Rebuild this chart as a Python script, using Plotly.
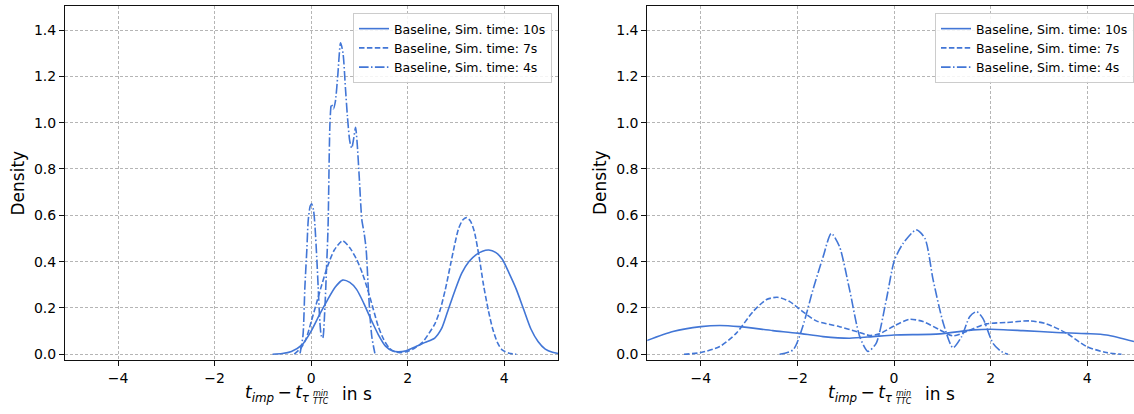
import plotly.graph_objects as go

# ---------------- data ----------------
# Left panel: kernel density curves (x in s, density)
left_10s_x = [-0.80, -0.60, -0.41, -0.19, 0.00, 0.17, 0.34, 0.50, 0.65, 0.80, 0.94, 1.09, 1.24,
              1.39, 1.54, 1.68, 1.80, 1.97, 2.14, 2.35, 2.56, 2.70, 2.82, 2.97, 3.12, 3.27, 3.42,
              3.55, 3.68, 3.82, 3.96, 4.10, 4.25, 4.40, 4.55, 4.70, 4.85, 5.00, 5.12]
left_10s_y = [0.000, 0.003, 0.012, 0.040, 0.100, 0.170, 0.235, 0.290, 0.320, 0.310, 0.280, 0.220, 0.150,
              0.085, 0.035, 0.015, 0.010, 0.015, 0.030, 0.050, 0.070, 0.110, 0.180, 0.270, 0.350, 0.400, 0.430,
              0.445, 0.450, 0.440, 0.410, 0.350, 0.280, 0.195, 0.110, 0.055, 0.022, 0.008, 0.003]

left_7s_x = [-0.35, -0.20, -0.10, 0.00, 0.11, 0.22, 0.34, 0.48, 0.65, 0.80, 0.94, 1.06, 1.17, 1.28,
             1.39, 1.50, 1.62, 1.74, 1.84, 2.00, 2.14, 2.30, 2.44, 2.56, 2.67, 2.78, 2.89, 2.97,
             3.05, 3.14, 3.22, 3.30, 3.38, 3.48, 3.57, 3.67, 3.76, 3.86, 3.95, 4.10, 4.25]
left_7s_y = [0.000, 0.030, 0.070, 0.140, 0.220, 0.300, 0.380, 0.450, 0.490, 0.460, 0.410, 0.350, 0.280, 0.200,
             0.120, 0.065, 0.026, 0.010, 0.007, 0.012, 0.026, 0.050, 0.090, 0.130, 0.190, 0.280, 0.390, 0.470,
             0.540, 0.580, 0.590, 0.575, 0.530, 0.420, 0.300, 0.190, 0.110, 0.050, 0.020, 0.004, 0.000]

left_4s_x = [-0.23, -0.17, -0.13, -0.09, -0.06, -0.02, 0.01, 0.05, 0.08, 0.12, 0.145, 0.18, 0.21, 0.24,
             0.28, 0.32, 0.35, 0.39, 0.42, 0.46, 0.50, 0.55, 0.61, 0.66, 0.71, 0.75, 0.80, 0.84, 0.88,
             0.92, 0.95, 1.00, 1.05, 1.10, 1.14, 1.18, 1.22, 1.26, 1.32]
left_4s_y = [0.004, 0.080, 0.290, 0.450, 0.580, 0.640, 0.650, 0.620, 0.550, 0.400, 0.290, 0.140, 0.080, 0.070,
             0.180, 0.380, 0.550, 1.000, 1.080, 1.060, 1.090, 1.200, 1.345, 1.300, 1.150, 1.030, 0.920, 0.890, 0.930,
             0.980, 0.920, 0.750, 0.580, 0.520, 0.450, 0.300, 0.160, 0.070, 0.004]

# Right panel
right_10s_x = [-5.12, -4.58, -4.00, -3.61, -3.20, -2.51, -2.00, -1.47, -0.92, -0.44, 0.00, 0.95,
               1.64, 2.00, 2.67, 3.36, 4.00, 4.40, 4.97]
right_10s_y = [0.059, 0.098, 0.119, 0.124, 0.119, 0.102, 0.091, 0.076, 0.069, 0.076, 0.083, 0.088,
               0.105, 0.108, 0.102, 0.094, 0.089, 0.083, 0.055]

right_7s_x = [-4.35, -4.00, -3.61, -3.27, -2.92, -2.65, -2.42, -2.16, -1.89, -1.61, -1.13, -0.78,
              -0.50, -0.30, 0.00, 0.32, 0.60, 0.95, 1.22, 1.50, 1.91, 2.33, 2.81, 3.16, 3.57,
              3.99, 4.40, 4.71]
right_7s_y = [0.000, 0.007, 0.033, 0.090, 0.184, 0.235, 0.246, 0.227, 0.184, 0.144, 0.119, 0.098,
              0.081, 0.088, 0.122, 0.151, 0.141, 0.105, 0.079, 0.098, 0.131, 0.137, 0.144, 0.131, 0.091,
              0.033, 0.007, 0.000]

right_4s_x = [-2.37, -2.09, -1.89, -1.68, -1.47, -1.30, -1.13, -0.92, -0.71, -0.54, -0.37, -0.16,
              0.01, 0.19, 0.46, 0.64, 0.81, 1.02, 1.22, 1.40, 1.57, 1.71, 1.84, 2.05, 2.22, 2.36]
right_4s_y = [0.000, 0.019, 0.120, 0.278, 0.420, 0.522, 0.465, 0.278, 0.076, 0.012, 0.047, 0.235,
              0.407, 0.479, 0.537, 0.500, 0.321, 0.134, 0.028, 0.076, 0.163, 0.184, 0.155, 0.047, 0.012, 0.000]

series_names = ["Baseline, Sim. time: 10s", "Baseline, Sim. time: 7s", "Baseline, Sim. time: 4s"]
x_ticks = [-4, -2, 0, 2, 4]
y_ticks = [0.0, 0.2, 0.4, 0.6, 0.8, 1.0, 1.2, 1.4]

# ---------------- styling ----------------
W, H = 1134, 414
M_L, M_R, M_T, M_B = 65, 0, 6, 54
PLOT_W = W - M_L - M_R
PLOT_H = H - M_T - M_B
FONT = "DejaVu Sans"
LINE_COLOR = "#4276d6"
DASHES = ["solid", "5.5px,2.4px", "9.6px,2.4px,1.5px,2.4px"]


def px_x(px):
    return (px - M_L) / PLOT_W


def px_y(py):
    return (H - M_B - py) / PLOT_H


fig = go.Figure()

panels = [
    ("x", "y", "legend", [(left_10s_x, left_10s_y), (left_7s_x, left_7s_y), (left_4s_x, left_4s_y)]),
    ("x2", "y2", "legend2", [(right_10s_x, right_10s_y), (right_7s_x, right_7s_y), (right_4s_x, right_4s_y)]),
]
for xa, ya, lg, curves in panels:
    for (xs, ys), name, dash in zip(curves, series_names, DASHES):
        fig.add_trace(go.Scatter(
            x=xs, y=ys, mode="lines", name=name, xaxis=xa, yaxis=ya, legend=lg,
            line=dict(color=LINE_COLOR, width=1.6, dash=dash, shape="spline", smoothing=0.7),
        ))

axis_common = dict(
    showgrid=True, gridcolor="#b5b5b5", gridwidth=1, griddash="3px,2px",
    zeroline=False, showline=True, linecolor="#111111", linewidth=1,
    ticks="outside", ticklen=5, tickwidth=1, tickcolor="#111111",
    tickfont=dict(family=FONT, size=14, color="#000000"),
)

legend_common = dict(
    xanchor="right", yanchor="top", bgcolor="rgba(255,255,255,0.85)",
    bordercolor="#cccccc", borderwidth=1, tracegroupgap=0,
    font=dict(family=FONT, size=12.5, color="#000000"),
)

fig.update_layout(
    width=W, height=H,
    margin=dict(l=M_L, r=M_R, t=M_T, b=M_B, autoexpand=False),
    paper_bgcolor="white", plot_bgcolor="white",
    font=dict(family=FONT, color="#000000"),
    xaxis=dict(domain=[0, px_x(558.3)], range=[-5.10, 5.12], tickvals=x_ticks, anchor="y",
               mirror=True, **axis_common),
    yaxis=dict(domain=[0, 1], range=[-0.025, 1.504], tickvals=y_ticks, tickformat=".1f", anchor="x",
               mirror=True, **axis_common),
    xaxis2=dict(domain=[px_x(647.3), 1.0], range=[-5.11, 4.97], tickvals=x_ticks, anchor="y2",
                mirror=True, **axis_common),
    yaxis2=dict(domain=[0, 1], range=[-0.025, 1.504], tickvals=y_ticks, tickformat=".1f", anchor="x2",
                mirror=False, **axis_common),
    legend=dict(x=px_x(552), y=px_y(13), **legend_common),
    legend2=dict(x=1.0, y=px_y(13), **legend_common),
    showlegend=True,
)

# Axis titles drawn as annotations (paper coordinates; centre_px = pixel of x = 0)
for centre_px, dens_px in ((311.3, 17.5), (894.2, 600.0)):
    fig.add_annotation(text="Density", textangle=-90, xref="paper", yref="paper",
                       x=px_x(dens_px), y=px_y(183), xanchor="center", yanchor="middle",
                       showarrow=False, font=dict(family=FONT, size=17, color="#000000"))
    fig.add_annotation(text="<i>t</i><sub><i>imp</i></sub>\u2009−\u2009<i>t</i><sub><i>τ</i></sub>",
                       xref="paper", yref="paper", x=px_x(centre_px + 1), y=px_y(394),
                       xanchor="right", yanchor="middle", showarrow=False,
                       font=dict(family=FONT, size=17, color="#000000"))
    fig.add_annotation(text="<i>min</i>", xref="paper", yref="paper",
                       x=px_x(centre_px), y=px_y(393), xanchor="left", yanchor="middle",
                       showarrow=False, font=dict(family=FONT, size=8, color="#000000"))
    fig.add_annotation(text="<i>TTC</i>", xref="paper", yref="paper",
                       x=px_x(centre_px), y=px_y(401), xanchor="left", yanchor="middle",
                       showarrow=False, font=dict(family=FONT, size=8, color="#000000"))
    fig.add_annotation(text="in s", xref="paper", yref="paper",
                       x=px_x(centre_px + 29), y=px_y(394), xanchor="left", yanchor="middle",
                       showarrow=False, font=dict(family=FONT, size=17, color="#000000"))

fig.write_html("out.html")
